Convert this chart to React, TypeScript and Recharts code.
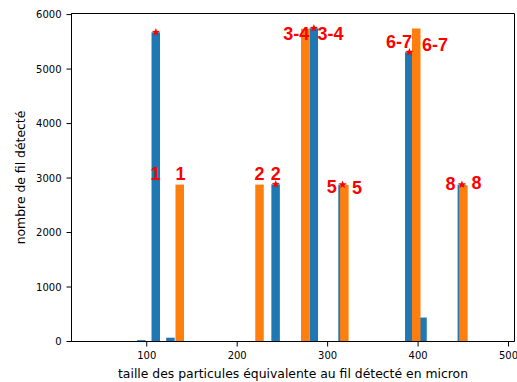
import { ComposedChart, Bar, Scatter, XAxis, YAxis, ReferenceArea, Label } from "recharts";

// blue series (peaks of the first detection)
const blueX = [94.2, 110.1, 126.3, 242.6, 284.8, 316.6, 390.4, 405.0, 448.5];
const blueY = [25, 5675, 70, 2885, 5750, 2880, 5310, 440, 2880];

// orange series
const orangeX = [136.6, 224.8, 275.4, 318.6, 398.1, 450.2];
const orangeY = [2880, 2880, 5740, 2875, 5745, 2865];

// red stars on the matched peaks
const peakX = [110.1, 242.6, 284.8, 316.6, 390.4, 448.5];
const peakY = [5675, 2885, 5750, 2880, 5310, 2880];

// red annotations
const labelText = ["1", "1", "2", "2", "3-4", "3-4", "5", "5", "6-7", "6-7", "8", "8"];
const labelX = [109.7, 137.4, 224.8, 242.5, 265.2, 303.1, 304.6, 332.6, 378.9, 418.6, 435.8, 464.6];
const labelY = [2965, 2965, 2965, 2965, 5532, 5532, 2721, 2708, 5385, 5339, 2781, 2800];

const xTicks = [100, 200, 300, 400, 500];
const yTicks = [0, 1000, 2000, 3000, 4000, 5000, 6000];

const X_DOMAIN: [number, number] = [16.8, 506.6];
const Y_DOMAIN: [number, number] = [0, 6020];

const BLUE = "#1f77b4";
const ORANGE = "#ff7f0e";
const RED = "#ff0000";
const BAR_W = 8.5;

const rows = [
  ...blueX.map((x, i) => ({ x, blue: blueY[i] })),
  ...orangeX.map((x, i) => ({ x, orange: orangeY[i] })),
].sort((a, b) => a.x - b.x);

const peaks = peakX.map((x, i) => ({ x, y: peakY[i] }));
const labels = labelX.map((x, i) => ({ x, y: labelY[i], t: labelText[i] }));

const barShape = (fill: string) => (props: any) => {
  const { x, y, width, height } = props;
  if (!height || height <= 0) return <g />;
  const cx = x + width / 2;
  return <rect x={cx - BAR_W / 2} y={y} width={BAR_W} height={height} fill={fill} />;
};

const Star = (props: any) => {
  const { cx, cy } = props;
  const ro = 4.2;
  const ri = 1.8;
  const pts: string[] = [];
  for (let k = 0; k < 10; k++) {
    const r = k % 2 === 0 ? ro : ri;
    const a = -Math.PI / 2 + (k * Math.PI) / 5;
    pts.push(`${cx + r * Math.cos(a)},${cy + r * Math.sin(a)}`);
  }
  return <polygon points={pts.join(" ")} fill={RED} />;
};

const Note = (props: any) => {
  const { cx, cy, payload } = props;
  return (
    <text
      x={cx}
      y={cy}
      textAnchor="middle"
      fill={RED}
      fontFamily="Liberation Sans, Arial, sans-serif"
      fontWeight="bold"
      fontSize={18}
    >
      {payload.t}
    </text>
  );
};

const tickStyle = { fontSize: 10, fill: "#000", fontFamily: "DejaVu Sans" };

export default function App() {
  return (
    <div style={{ position: "absolute", left: 0, top: 0, width: 517, height: 382, background: "#fff" }}>
      <ComposedChart
        width={517}
        height={382}
        data={rows}
        margin={{ top: 13.5, right: 2.5, bottom: 0.5, left: 11.5 }}
      >
        <XAxis
          dataKey="x"
          type="number"
          domain={X_DOMAIN}
          ticks={xTicks}
          allowDataOverflow
          height={40}
          tickSize={5}
          tickMargin={5}
          tick={tickStyle}
          stroke="#000"
        >
          <Label
            value="taille des particules équivalente au fil détecté en micron"
            position="insideBottom"
            offset={4}
            style={{ fontSize: 12.4, fill: "#000", fontFamily: "DejaVu Sans" }}
          />
        </XAxis>
        <XAxis xAxisId="s" dataKey="x" type="number" domain={X_DOMAIN} allowDataOverflow hide />
        <YAxis
          type="number"
          domain={Y_DOMAIN}
          ticks={yTicks}
          allowDataOverflow
          width={60}
          tickSize={5}
          tickMargin={5}
          tick={tickStyle}
          stroke="#000"
        >
          <Label
            content={() => (
              <text
                x={24.5}
                y={177.5}
                transform="rotate(-90, 24.5, 177.5)"
                textAnchor="middle"
                fontSize={12.4}
                fill="#000"
                fontFamily="DejaVu Sans"
              >
                nombre de fil détecté
              </text>
            )}
          />
        </YAxis>
        <Bar dataKey="blue" stackId="h" fill={BLUE} shape={barShape(BLUE)} isAnimationActive={false} />
        <Bar dataKey="orange" stackId="h" fill={ORANGE} shape={barShape(ORANGE)} isAnimationActive={false} />
        <ReferenceArea
          x1={X_DOMAIN[0]}
          x2={X_DOMAIN[1]}
          y1={Y_DOMAIN[0]}
          y2={Y_DOMAIN[1]}
          fill="none"
          stroke="#000"
          strokeWidth={1}
          ifOverflow="extendDomain"
        />
        <Scatter xAxisId="s" data={peaks} dataKey="y" shape={Star} isAnimationActive={false} />
        <Scatter xAxisId="s" data={labels} dataKey="y" shape={Note} isAnimationActive={false} />
      </ComposedChart>
    </div>
  );
}
